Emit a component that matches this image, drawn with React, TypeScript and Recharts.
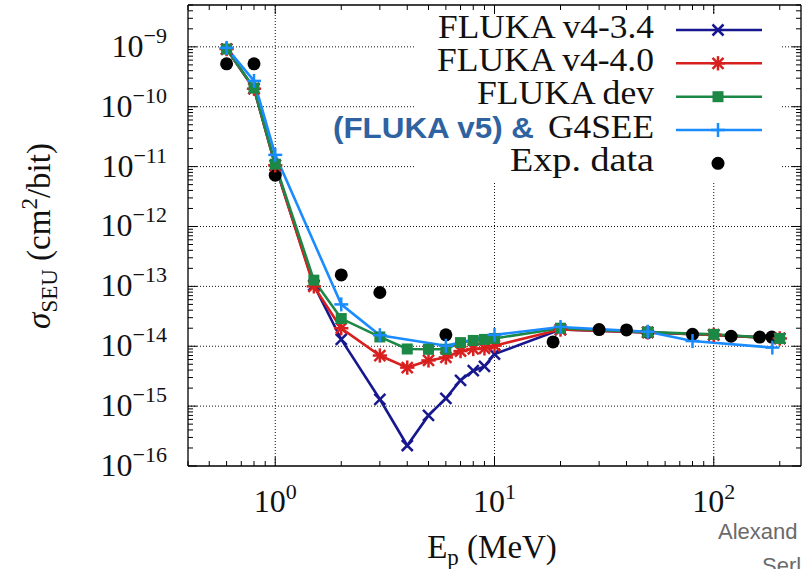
import React from 'react';
import { ComposedChart, Line, Scatter, XAxis, YAxis, ReferenceLine, Legend, Customized } from 'recharts';

// ---------- data ----------
const energyFluka = [0.6, 0.8, 1, 1.5, 2, 3, 4, 5, 6, 7, 8, 9, 10, 20, 50, 100, 200];
const sigmaV434 = [9.2e-10, 2.0e-10, 1.05e-11, 1.05e-13, 1.3e-14, 1.3e-15, 2.2e-16, 7.0e-16, 1.35e-15, 2.7e-15, 3.9e-15, 4.6e-15, 7.4e-15, 1.9e-14, 1.7e-14, 1.55e-14, 1.35e-14];
const sigmaV440 = [9.2e-10, 2.0e-10, 1.05e-11, 1.0e-13, 2.0e-14, 7.0e-15, 4.4e-15, 5.8e-15, 6.5e-15, 8.3e-15, 9.0e-15, 9.2e-15, 1.02e-14, 1.9e-14, 1.7e-14, 1.55e-14, 1.35e-14];
const sigmaDev = [9.2e-10, 2.05e-10, 1.1e-11, 1.27e-13, 2.9e-14, 1.43e-14, 9.0e-15, 8.9e-15, 8.9e-15, 1.15e-14, 1.25e-14, 1.3e-14, 1.35e-14, 2.0e-14, 1.72e-14, 1.58e-14, 1.35e-14];
const energyG4 = [0.6, 0.8, 1, 2, 3, 6, 10, 20, 50, 80, 185];
const sigmaG4 = [9.6e-10, 2.7e-10, 1.57e-11, 5.0e-14, 1.53e-14, 1.02e-14, 1.55e-14, 2.1e-14, 1.75e-14, 1.22e-14, 9.5e-15];
const energyExp = [0.6, 0.8, 1, 2, 3, 6, 18.5, 30, 40, 50, 80, 120, 162, 184];
const sigmaExp = [5.2e-10, 5.2e-10, 7.2e-12, 1.55e-13, 7.9e-14, 1.55e-14, 1.18e-14, 1.9e-14, 1.87e-14, 1.7e-14, 1.58e-14, 1.47e-14, 1.42e-14, 1.42e-14];

const xMajorTicks = [1, 10, 100];
const xMinorTicks = [0.4, 0.5, 0.6, 0.7, 0.8, 0.9, 2, 3, 4, 5, 6, 7, 8, 9, 20, 30, 40, 50, 60, 70, 80, 90, 200];
const yExponents = [-16, -15, -14, -13, -12, -11, -10, -9];
const yMinorMultipliers = [2, 3, 4, 5, 6, 7, 8, 9];
const xDomain = [0.4, 250];
const yDomain = [1e-16, 5e-9];

const legendLabels = ['FLUKA v4-3.4', 'FLUKA v4-4.0', 'FLUKA dev', 'G4SEE', 'Exp. data'];

// ---------- derived ----------
const toPts = (xs: number[], ys: number[]) => xs.map((x, i) => ({ x, y: ys[i] }));
const dV434 = toPts(energyFluka, sigmaV434);
const dV440 = toPts(energyFluka, sigmaV440);
const dDev = toPts(energyFluka, sigmaDev);
const dG4 = toPts(energyG4, sigmaG4);
const dExp = toPts(energyExp, sigmaExp);

const yMajorTicks = yExponents.map((e) => Math.pow(10, e));
const yMinorTicks: number[] = [];
yExponents.forEach((e) => yMinorMultipliers.forEach((k) => {
  const v = k * Math.pow(10, e);
  if (v <= yDomain[1] * 1.0001) yMinorTicks.push(v);
}));
const xTicks = [...xMajorTicks, ...xMinorTicks].sort((a, b) => a - b);
const yTicks = [...yMajorTicks, ...yMinorTicks].sort((a, b) => a - b);

const isMajor = (v: number) => Math.abs(Math.log10(v) - Math.round(Math.log10(v))) < 1e-6;
const expOf = (v: number) => Math.round(Math.log10(v));
const fmtExp = (e: number) => (e < 0 ? '\u2212' + String(-e) : String(e));

const C_V434 = '#17178f';
const C_V440 = '#d8201f';
const C_DEV = '#1c8845';
const C_G4 = '#1a8cff';
const SERIF = '"Liberation Serif", "DejaVu Serif", serif';
const SANS = '"Liberation Sans", Arial, sans-serif';
const MAJ = 9;
const MIN = 5;

// ---------- ticks ----------
const XTickBottom = (p: any) => {
  const { x, y, payload } = p;
  const v = payload.value;
  const maj = isMajor(v);
  return (
    <g>
      <line x1={x} x2={x} y1={y} y2={y - (maj ? MAJ : MIN)} stroke="#000" strokeWidth={1} />
      {maj && (
        <text x={x} y={y + 46} textAnchor="middle" fontFamily={SERIF} fontSize={32} fill="#111">
          <tspan>10</tspan>
          <tspan dy={-13} fontSize={22}>{fmtExp(expOf(v))}</tspan>
        </text>
      )}
    </g>
  );
};
const XTickTop = (p: any) => {
  const { x, y, payload } = p;
  const maj = isMajor(payload.value);
  return <line x1={x} x2={x} y1={y} y2={y + (maj ? MAJ : MIN)} stroke="#000" strokeWidth={1} />;
};
const YTickLeft = (p: any) => {
  const { x, y, payload } = p;
  const v = payload.value;
  const maj = isMajor(v);
  return (
    <g>
      <line x1={x} x2={x + (maj ? MAJ : MIN)} y1={y} y2={y} stroke="#000" strokeWidth={1} />
      {maj && (
        <text x={x - 21} y={y + 10} textAnchor="end" fontFamily={SERIF} fontSize={32} fill="#111">
          <tspan>10</tspan>
          <tspan dy={-14} fontSize={22}>{fmtExp(expOf(v))}</tspan>
        </text>
      )}
    </g>
  );
};
const YTickRight = (p: any) => {
  const { x, y, payload } = p;
  const maj = isMajor(payload.value);
  return <line x1={x} x2={x - (maj ? MAJ : MIN)} y1={y} y2={y} stroke="#000" strokeWidth={1} />;
};

// ---------- markers ----------
const Cross = ({ cx, cy, color, s = 5.5 }: any) => (
  <g stroke={color} strokeWidth={2.5}>
    <line x1={cx - s} y1={cy - s} x2={cx + s} y2={cy + s} />
    <line x1={cx - s} y1={cy + s} x2={cx + s} y2={cy - s} />
  </g>
);
const Star = ({ cx, cy, color, s = 5.5 }: any) => (
  <g stroke={color} strokeWidth={2.5}>
    <line x1={cx - s} y1={cy - s} x2={cx + s} y2={cy + s} />
    <line x1={cx - s} y1={cy + s} x2={cx + s} y2={cy - s} />
    <line x1={cx - s * 1.3} y1={cy} x2={cx + s * 1.3} y2={cy} />
    <line x1={cx} y1={cy - s * 1.3} x2={cx} y2={cy + s * 1.3} />
  </g>
);
const Square = ({ cx, cy, color, s = 5.5 }: any) => (
  <rect x={cx - s} y={cy - s} width={2 * s} height={2 * s} fill={color} />
);
const Plus = ({ cx, cy, color, s = 7 }: any) => (
  <g stroke={color} strokeWidth={2.5}>
    <line x1={cx - s} y1={cy} x2={cx + s} y2={cy} />
    <line x1={cx} y1={cy - s} x2={cx} y2={cy + s} />
  </g>
);

const dotFn = (Comp: any, color: string) => (p: any) => (
  <Comp key={`d-${p.index}`} cx={p.cx} cy={p.cy} color={color} />
);

// ---------- legend ----------
const legendWidths = [216, 217, 177, 106, 144];

const LegendBox = () => {
  const ox = 330;
  const oy = 5;
  const rows = [30, 63.3, 96.7, 130, 163.3];
  const textRight = 654 - ox;
  const lineX1 = 676 - ox;
  const lineX2 = 762 - ox;
  const mx = 718 - ox;
  const markers = [Cross, Star, Square, Plus];
  const colors = [C_V434, C_V440, C_DEV, C_G4];
  return (
    <svg width={472} height={182} style={{ display: 'block', overflow: 'visible' }}>
      <rect x={415 - ox} y={14 - oy} width={782 - 415} height={181 - 14} fill="#fff" />
      {rows.map((cy0, i) => {
        const cy = cy0 - oy;
        const base = cy + 7.5;
        return (
          <g key={i}>
            {i === 3 && (
              <text x={333 - ox} y={base} fontFamily={SANS} fontWeight="bold" fontSize={30} fill="#2f62a0" textLength={201} lengthAdjust="spacingAndGlyphs">(FLUKA v5) &amp;</text>
            )}
            <text x={textRight} y={base} textAnchor="end" fontFamily={SERIF} fontSize={33} fill="#111"
              textLength={legendWidths[i]} lengthAdjust="spacingAndGlyphs">{legendLabels[i]}</text>
            {i < 4 ? (
              <>
                <line x1={lineX1} x2={lineX2} y1={cy} y2={cy} stroke={colors[i]} strokeWidth={2.5} />
                {React.createElement(markers[i], { cx: mx, cy, color: colors[i] })}
              </>
            ) : (
              <circle cx={mx} cy={cy} r={6.5} fill="#000" />
            )}
          </g>
        );
      })}
    </svg>
  );
};

// ---------- titles ----------
const Titles = () => (
  <g>
    <text x={492} y={558} textAnchor="middle" fontFamily={SERIF} fontSize={33} fill="#111">
      <tspan>E</tspan>
      <tspan dy={7} fontSize={23}>p</tspan>
      <tspan dy={-7}> (MeV)</tspan>
    </text>
    <text transform="translate(50,236) rotate(-90)" textAnchor="middle" fontFamily={SERIF} fontSize={33} fill="#111">
      <tspan fontStyle="italic">σ</tspan>
      <tspan dy={7} fontSize={23}>SEU</tspan>
      <tspan dy={-7}> (cm</tspan>
      <tspan dy={-13} fontSize={23}>2</tspan>
      <tspan dy={13}>/bit)</tspan>
    </text>
    <text x={718} y={539} fontFamily={SANS} fontSize={22} fill="#6a6a6a">Alexand</text>
    <text x={762} y={573} fontFamily={SANS} fontSize={22} fill="#6a6a6a">Serl</text>
  </g>
);

const gridStyle = { stroke: '#111', strokeWidth: 1, strokeDasharray: '1 2' };

export default function App() {
  return (
    <div style={{ position: 'absolute', left: 0, top: 0, width: 806, height: 569, overflow: 'hidden', background: '#fff' }}>
      <ComposedChart width={806} height={569} margin={{ top: 0, right: 0, bottom: 0, left: 0 }}>
        <XAxis xAxisId="b" dataKey="x" type="number" scale="log" domain={xDomain} allowDataOverflow
          ticks={xTicks} interval={0} orientation="bottom" height={103} tickSize={0} tickMargin={0}
          tickLine={false} axisLine={{ stroke: '#000', strokeWidth: 1.3 }} tick={<XTickBottom />} />
        <XAxis xAxisId="t" dataKey="x" type="number" scale="log" domain={xDomain} allowDataOverflow
          ticks={xTicks} interval={0} orientation="top" height={5} tickSize={0} tickMargin={0}
          tickLine={false} axisLine={{ stroke: '#000', strokeWidth: 1.3 }} tick={<XTickTop />} />
        <YAxis yAxisId="l" dataKey="y" type="number" scale="log" domain={yDomain} allowDataOverflow
          ticks={yTicks} interval={0} orientation="left" width={188} tickSize={0} tickMargin={0}
          tickLine={false} axisLine={{ stroke: '#000', strokeWidth: 1.3 }} tick={<YTickLeft />} />
        <YAxis yAxisId="r" dataKey="y" type="number" scale="log" domain={yDomain} allowDataOverflow
          ticks={yTicks} interval={0} orientation="right" width={5} tickSize={0} tickMargin={0}
          tickLine={false} axisLine={{ stroke: '#000', strokeWidth: 1.3 }} tick={<YTickRight />} />

        {xMajorTicks.map((v) => (
          <ReferenceLine key={`gx${v}`} x={v} xAxisId="b" yAxisId="l" {...gridStyle} />
        ))}
        {yMajorTicks.slice(1).map((v) => (
          <ReferenceLine key={`gy${v}`} y={v} xAxisId="b" yAxisId="l" {...gridStyle} />
        ))}

        <Line data={dV434} dataKey="y" xAxisId="b" yAxisId="l" stroke={C_V434} strokeWidth={2.6}
          dot={dotFn(Cross, C_V434)} activeDot={false} isAnimationActive={false} />
        <Line data={dV440} dataKey="y" xAxisId="b" yAxisId="l" stroke={C_V440} strokeWidth={2.6}
          dot={dotFn(Star, C_V440)} activeDot={false} isAnimationActive={false} />
        <Line data={dDev} dataKey="y" xAxisId="b" yAxisId="l" stroke={C_DEV} strokeWidth={2.6}
          dot={dotFn(Square, C_DEV)} activeDot={false} isAnimationActive={false} />
        <Line data={dG4} dataKey="y" xAxisId="b" yAxisId="l" stroke={C_G4} strokeWidth={2.6}
          dot={dotFn(Plus, C_G4)} activeDot={false} isAnimationActive={false} />
        <Scatter data={dExp} dataKey="y" xAxisId="b" yAxisId="l" isAnimationActive={false}
          shape={(p: any) => <circle cx={p.cx} cy={p.cy} r={6.5} fill="#000" />} />

        <Legend layout="horizontal" verticalAlign="middle" align="center" content={() => <LegendBox />}
          wrapperStyle={{ position: 'absolute', left: 330, top: 5, width: 472, height: 182 }} />
        <Customized component={<Titles />} />
      </ComposedChart>
    </div>
  );
}
